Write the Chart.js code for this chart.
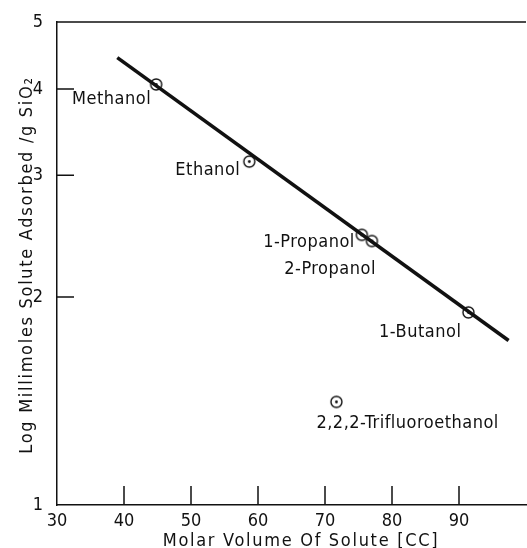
<!DOCTYPE html>
<html>
<head>
<meta charset="utf-8">
<script src="https://cdn.jsdelivr.net/npm/chart.js@4/dist/chart.umd.min.js"></script>
<style>
  html, body { margin: 0; padding: 0; background: #fff; overflow: hidden; }
  #wrap { width: 530px; height: 548px; position: relative; }
</style>
</head>
<body>
<div id="wrap"><canvas id="grafico"></canvas></div>
<script>
// data
const solutes = ['Methanol', 'Ethanol', '1-Propanol', '2-Propanol', '1-Butanol', '2,2,2-Trifluoroethanol'];
const molarVolume = [44.8, 58.7, 75.5, 77.0, 91.4, 71.7];
const adsorbed = [4.06, 3.14, 2.46, 2.41, 1.90, 1.41];
const fitVolume = [39.0, 97.4];
const fitAdsorbed = [4.44, 1.73];
const xTicks = [30, 40, 50, 60, 70, 80, 90];
const yTicks = [1, 2, 3, 4, 5];

const ink = '#111';
const font = "'DejaVu Sans Condensed', 'Liberation Sans Narrow', sans-serif";

// where each name sits relative to its point
const labelPos = {
    'Methanol': { align: 'right', dx: -5, dy: 20 },
    'Ethanol': { align: 'right', dx: -9, dy: 13 },
    '1-Propanol': { align: 'right', dx: -7, dy: 12 },
    '2-Propanol': { align: 'right', dx: 4, dy: 33 },
    '1-Butanol': { align: 'right', dx: -7, dy: 25 },
    '2,2,2-Trifluoroethanol': { align: 'left', dx: -20, dy: 26 }
};

// circle with a dot in the middle
function dotCircle() {
    const c = document.createElement('canvas');
    c.width = 15; c.height = 15;
    const g = c.getContext('2d');
    g.fillStyle = '#fff';
    g.strokeStyle = ink;
    g.lineWidth = 1.4;
    g.beginPath(); g.arc(7.5, 7.5, 5.5, 0, Math.PI * 2); g.fill(); g.stroke();
    g.fillStyle = ink;
    g.beginPath(); g.arc(7.5, 7.5, 1.4, 0, Math.PI * 2); g.fill();
    return c;
}

const decor = {
    id: 'decor',
    afterDraw(chart) {
        const { ctx, chartArea: a, scales: { x, y } } = chart;
        ctx.save();
        ctx.strokeStyle = ink;
        ctx.lineWidth = 1.5;
        ctx.beginPath();
        ctx.moveTo(a.left, a.top);
        ctx.lineTo(a.right, a.top);
        x.ticks.forEach(t => {
            const px = x.getPixelForValue(t.value);
            if (px <= a.left + 1) return;
            ctx.moveTo(px, a.bottom);
            ctx.lineTo(px, a.bottom - 19);
        });
        y.ticks.forEach(t => {
            const py = y.getPixelForValue(t.value);
            if (py >= a.bottom - 1) return;
            ctx.moveTo(a.left, py);
            ctx.lineTo(a.left + 17, py);
        });
        ctx.stroke();

        // point names
        const meta = chart.getDatasetMeta(1);
        ctx.fillStyle = ink;
        ctx.font = '18px ' + font;
        ctx.textBaseline = 'alphabetic';
        ctx.letterSpacing = '0.5px';
        meta.data.forEach((pt, i) => {
            const p = labelPos[solutes[i]];
            ctx.textAlign = p.align;
            ctx.fillText(solutes[i], pt.x + p.dx, pt.y + p.dy);
        });

        // axis titles
        ctx.letterSpacing = '1.7px';
        ctx.textAlign = 'center';
        ctx.fillText('Molar Volume Of Solute [CC]', 301, 546);
        ctx.translate(32, 265);
        ctx.rotate(-Math.PI / 2);
        ctx.fillText('Log Millimoles Solute Adsorbed /g SiO₂', 0, 0);
        ctx.restore();
    }
};

new Chart(document.getElementById('grafico'), {
    type: 'scatter',
    data: {
        datasets: [{
            type: 'line',
            data: fitVolume.map((v, i) => ({ x: v, y: fitAdsorbed[i] })),
            borderColor: ink,
            borderWidth: 3.6,
            pointRadius: 0,
            fill: false
        }, {
            data: molarVolume.map((v, i) => ({ x: v, y: adsorbed[i] })),
            pointStyle: dotCircle(),
            pointRadius: 0.5,
            borderWidth: 0
        }]
    },
    options: {
        responsive: true,
        maintainAspectRatio: false,
        animation: false,
        devicePixelRatio: 1,
        layout: { padding: { top: 22, right: 0, left: 0, bottom: 0 } },
        plugins: {
            legend: { display: false },
            tooltip: { enabled: false }
        },
        scales: {
            x: {
                type: 'linear',
                min: 30,
                max: 100,
                afterBuildTicks: s => { s.ticks = xTicks.map(v => ({ value: v })); },
                afterFit: s => { s.height = 43; s.paddingLeft = 0; s.paddingRight = 0; },
                grid: { display: false },
                border: { display: true, color: ink, width: 1.5 },
                ticks: { color: ink, font: { family: font, size: 18 }, padding: -2, maxRotation: 0 }
            },
            y: {
                type: 'logarithmic',
                min: 1,
                max: 5,
                afterBuildTicks: s => { s.ticks = yTicks.map(v => ({ value: v })); },
                afterFit: s => { s.width = 57; },
                grid: { display: false },
                border: { display: true, color: ink, width: 1.5 },
                ticks: { color: ink, font: { family: font, size: 18 }, padding: 6, callback: v => String(v) }
            }
        }
    },
    plugins: [decor]
});
</script>
</body>
</html>
